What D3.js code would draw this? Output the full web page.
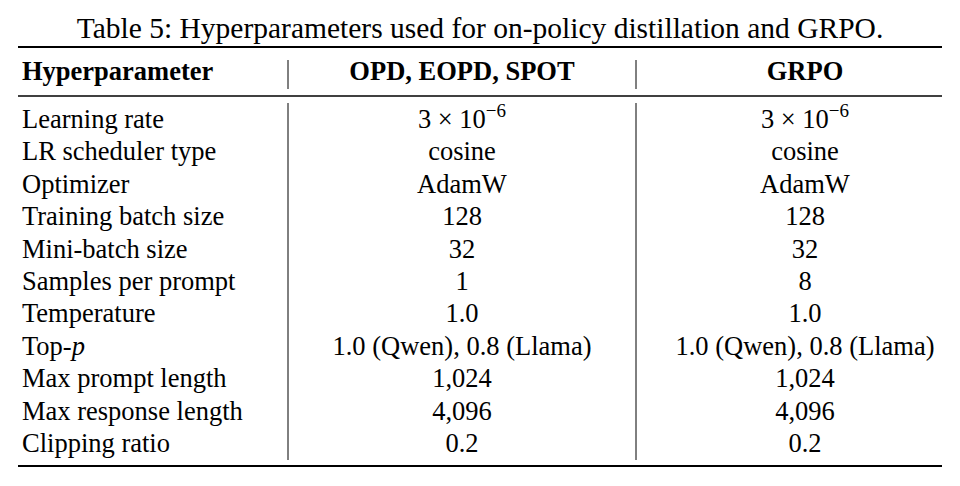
<!DOCTYPE html>
<html><head><meta charset="utf-8">
<script src="https://cdn.jsdelivr.net/npm/d3@7"></script>
<style>body{margin:0;background:#fff}</style></head>
<body><svg id="c" width="960" height="486"></svg>
<script>
const title = "Table 5: Hyperparameters used for on-policy distillation and GRPO.";
const headers = ["Hyperparameter", "OPD, EOPD, SPOT", "GRPO"];
const params = ["Learning rate","LR scheduler type","Optimizer","Training batch size","Mini-batch size","Samples per prompt","Temperature","Top-p","Max prompt length","Max response length","Clipping ratio"];
const opdValues = ["3e-6","cosine","AdamW","128","32","1","1.0","1.0 (Qwen), 0.8 (Llama)","1,024","4,096","0.2"];
const grpoValues = ["3e-6","cosine","AdamW","128","32","8","1.0","1.0 (Qwen), 0.8 (Llama)","1,024","4,096","0.2"];

const svg = d3.select("#c");
const font = "'Liberation Serif','Times New Roman',serif";
const y = d3.scaleLinear().domain([0, params.length-1]).range([128, 452]);
const colX = [22, 462, 805];

svg.append("text").attr("x",480).attr("y",38).attr("text-anchor","middle")
  .attr("font-family",font).attr("font-size",29.5).text(title);

function hline(yy, w){ svg.append("line").attr("x1",18).attr("x2",942).attr("y1",yy).attr("y2",yy).attr("stroke","#000").attr("stroke-width",w); }
hline(47,2.2); hline(96,1.4); hline(466,2.2);
[288,636].forEach(x=>{
  svg.append("line").attr("x1",x).attr("x2",x).attr("y1",60).attr("y2",89).attr("stroke","#000").attr("stroke-width",1);
  svg.append("line").attr("x1",x).attr("x2",x).attr("y1",103).attr("y2",460).attr("stroke","#000").attr("stroke-width",1);
});

headers.forEach((h,i)=>{
  svg.append("text").attr("x",colX[i]).attr("y",80).attr("text-anchor",i===0?"start":"middle")
    .attr("font-family",font).attr("font-weight","bold").attr("font-size",26.5).text(h);
});

function cell(x, yy, v, anchor){
  const t = svg.append("text").attr("x",x).attr("y",yy).attr("text-anchor",anchor)
    .attr("font-family",font).attr("font-size",26.5);
  if (v === "3e-6") {
    t.append("tspan").text("3 × 10");
    t.append("tspan").attr("dy",-11).attr("font-size",19).text("−6");
  } else if (v === "Top-p") {
    t.append("tspan").text("Top-");
    t.append("tspan").attr("font-style","italic").text("p");
  } else t.text(v);
}
params.forEach((p,i)=>{
  cell(colX[0], y(i), p, "start");
  cell(colX[1], y(i), opdValues[i], "middle");
  cell(colX[2], y(i), grpoValues[i], "middle");
});
</script></body></html>
